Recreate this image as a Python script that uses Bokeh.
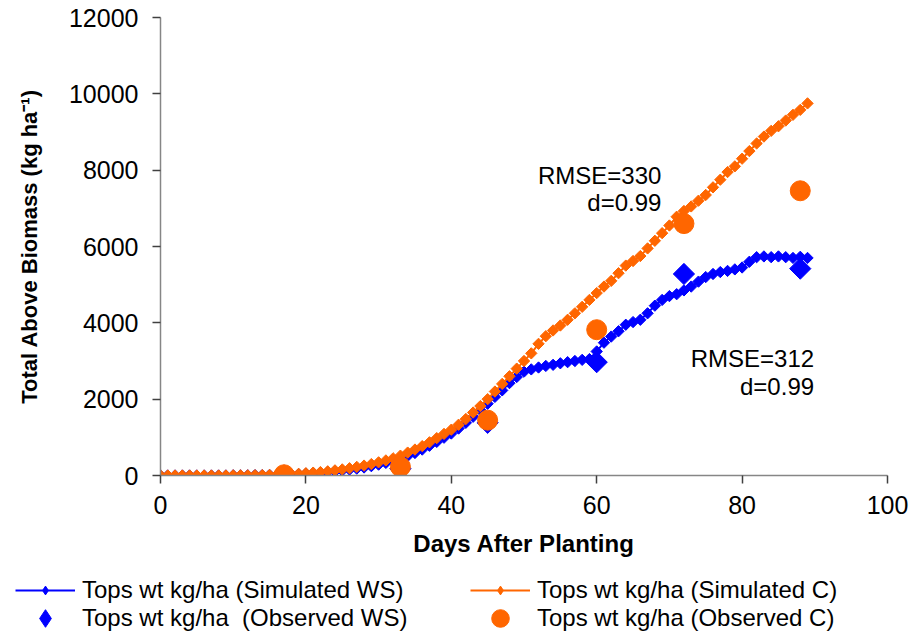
import math
from bokeh.plotting import figure
from bokeh.layouts import column
from bokeh.models import Range1d, FixedTicker, Legend, LegendItem
from bokeh.core.properties import value
from bokeh.embed import file_html
from bokeh.resources import INLINE

# ---------------- data ----------------
days = list(range(90))
sim_ws = [0, 0, 0, 0, 0, 0, 0, 0, 0, 0,
          5, 5, 5, 10, 10, 15, 15, 20, 25, 35,
          50, 60, 75, 90, 110, 130, 155, 180, 210, 245,
          285, 330, 380, 440, 510, 590, 680, 780, 880, 990,
          1100, 1230, 1380, 1540, 1710, 1880, 2060, 2230, 2420, 2580,
          2720, 2780, 2830, 2870, 2900, 2940, 2970, 3000, 3030, 3050,
          3250, 3480, 3640, 3780, 3950, 4020, 4080, 4250, 4450, 4600,
          4700, 4750, 4850, 4950, 5080, 5200, 5280, 5330, 5360, 5400,
          5450, 5600, 5720, 5740, 5720, 5740, 5720, 5700, 5730, 5700]
sim_c = [0, 0, 0, 0, 0, 0, 0, 0, 0, 0,
         5, 5, 5, 10, 10, 15, 15, 20, 30, 45,
         60, 75, 90, 110, 135, 160, 190, 225, 260, 300,
         345, 395, 450, 520, 600, 680, 770, 870, 980, 1090,
         1200, 1330, 1480, 1650, 1820, 2000, 2200, 2400, 2600, 2800,
         3000, 3200, 3450, 3650, 3800, 3930, 4080, 4250, 4420, 4600,
         4780, 4950, 5100, 5300, 5500, 5620, 5750, 5950, 6150, 6350,
         6550, 6780, 6930, 7050, 7200, 7350, 7550, 7750, 7950, 8100,
         8300, 8500, 8700, 8880, 9030, 9150, 9300, 9450, 9580, 9750]
obs_days = [17, 33, 45, 60, 72, 88]
obs_ws = [0, 180, 1380, 2970, 5280, 5420]
obs_c = [20, 230, 1450, 3820, 6600, 7460]

x_ticks = [0, 20, 40, 60, 80, 100]
y_ticks = [0, 2000, 4000, 6000, 8000, 10000, 12000]

labels = ["Tops wt kg/ha (Simulated WS)", "Tops wt kg/ha (Simulated C)",
          "Tops wt kg/ha  (Observed WS)", "Tops wt kg/ha (Observed C)"]
stats_c = ["RMSE=330", "d=0.99"]
stats_ws = ["RMSE=312", "d=0.99"]

BLUE = "#0000FF"
ORANGE = "#FF6600"
FONT = "Liberation Sans"

# ---------------- main chart ----------------
p = figure(width=918, height=570, output_backend="svg", toolbar_location=None,
           x_range=Range1d(0, 100), y_range=Range1d(0, 12000),
           min_border_left=160, min_border_right=31, min_border_top=17, min_border_bottom=95)
p.outline_line_color = None
p.grid.visible = False
p.frame_align = False

for ax in (p.xaxis[0], p.yaxis[0]):
    ax.axis_line_color = "#868686"
    ax.axis_line_width = 1.5
    ax.major_tick_line_color = "#404040"
    ax.major_tick_line_width = 1.5
    ax.major_tick_in = 0
    ax.major_tick_out = 8
    ax.minor_tick_line_color = None
    ax.major_label_text_font = FONT
    ax.major_label_text_font_size = "25px"
    ax.major_label_text_color = "black"
    ax.axis_label_text_font = FONT
    ax.axis_label_text_font_style = "bold"
    ax.axis_label_text_color = "black"

p.xaxis.ticker = FixedTicker(ticks=x_ticks)
p.yaxis.ticker = FixedTicker(ticks=y_ticks)
p.xaxis.axis_label = "Days After Planting"
p.xaxis.axis_label_text_font_size = "24px"
p.xaxis.major_label_standoff = 12
p.xaxis.axis_label_standoff = 13
p.yaxis.axis_label = "Total Above Biomass (kg ha\u207B\u00B9)"
p.yaxis.axis_label_text_font_size = "22px"
p.yaxis.major_label_standoff = 14
p.yaxis.axis_label_standoff = 24

p.line(days, sim_ws, line_color=BLUE, line_width=2)
p.scatter(days, sim_ws, marker="square", angle=math.pi / 4, size=8,
          fill_color=BLUE, line_color=BLUE)
p.line(days, sim_c, line_color=ORANGE, line_width=2)
p.scatter(days, sim_c, marker="square", angle=math.pi / 4, size=8,
          fill_color=ORANGE, line_color=ORANGE)
p.scatter(obs_days, obs_ws, marker="square", angle=math.pi / 4, size=15,
          fill_color=BLUE, line_color=BLUE)
p.scatter(obs_days, obs_c, marker="circle", size=20,
          fill_color=ORANGE, line_color=ORANGE)

p.text(x=[68.9, 68.9], y=[7860, 7150], text=stats_c, text_align="right",
       text_baseline="alphabetic", text_font=value(FONT), text_font_size="24px",
       text_color="black")
p.text(x=[89.9, 89.9], y=[3065, 2330], text=stats_ws, text_align="right",
       text_baseline="alphabetic", text_font=value(FONT), text_font_size="24px",
       text_color="black")

# ---------------- legend strip (proxy renderers kept outside the visible range) ----
lf = figure(width=918, height=63, output_backend="svg", toolbar_location=None,
            x_range=Range1d(-1000, -900), y_range=Range1d(-1000, -900),
            x_axis_location=None, y_axis_location=None,
            min_border=0, min_border_left=0, min_border_right=0,
            min_border_top=0, min_border_bottom=0)
lf.outline_line_color = None
lf.grid.visible = False
lf.frame_align = False

l_ws_line = lf.line(days, sim_ws, line_color=BLUE, line_width=2)
l_ws_pts = lf.scatter(days, sim_ws, marker="diamond", fill_color=BLUE, line_color=BLUE)
l_c_line = lf.line(days, sim_c, line_color=ORANGE, line_width=2)
l_c_pts = lf.scatter(days, sim_c, marker="diamond", fill_color=ORANGE, line_color=ORANGE)
l_ws_obs = lf.scatter(obs_days, obs_ws, marker="diamond", fill_color=BLUE, line_color=BLUE)
l_c_obs = lf.scatter(obs_days, obs_c, marker="circle", fill_color=ORANGE, line_color=ORANGE)


def make_legend(items, vy, gh):
    return Legend(items=items, orientation="horizontal", location=(15, vy),
                  glyph_width=60, glyph_height=gh, label_height=22, label_width=378,
                  label_standoff=7, spacing=10, padding=0, margin=0,
                  border_line_color=None, background_fill_alpha=0,
                  label_text_font=FONT, label_text_font_size="24px",
                  label_text_color="black")


leg1 = make_legend([LegendItem(label=labels[0], renderers=[l_ws_line, l_ws_pts]),
                    LegendItem(label=labels[1], renderers=[l_c_line, l_c_pts])], 29, 22)
leg2 = make_legend([LegendItem(label=labels[2], renderers=[l_ws_obs]),
                    LegendItem(label=labels[3], renderers=[l_c_obs])], -7, 44)
lf.add_layout(leg1, "center")
lf.add_layout(leg2, "center")

layout = column(p, lf, spacing=0)
open("out.html", "w").write(file_html(layout, INLINE))
